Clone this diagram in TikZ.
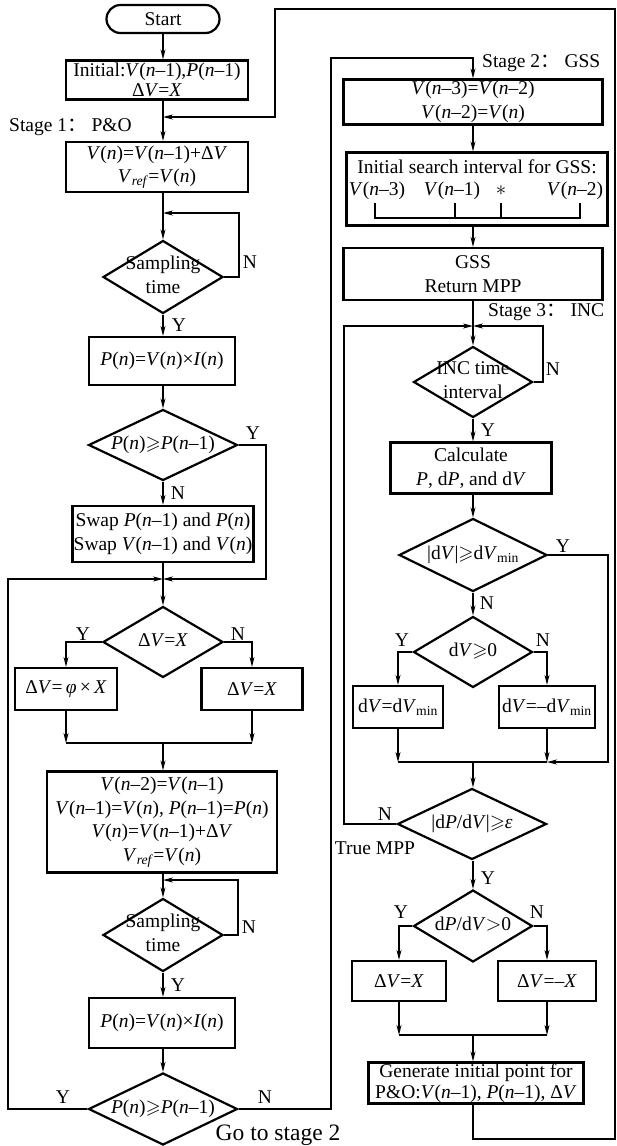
\documentclass[tikz,border=0pt]{standalone}
\usepackage{fontspec}
\usepackage{amssymb}
\setmainfont{Liberation Serif}
\newfontfamily\cjk{Noto Sans CJK SC}
\usetikzlibrary{shapes.geometric,arrows.meta}

\newcommand{\vi}[1]{\textit{#1}}
\newcommand{\dtxt}[1]{\makebox[0pt]{\begin{tabular}{@{}c@{}}#1\end{tabular}}}

\begin{document}
\begin{tikzpicture}[x=1pt,y=-1pt,
  font=\fontsize{19.5}{23.5}\selectfont,
  box/.style={draw, line width=2.2pt, align=center, inner sep=1pt},
  tight/.style={font=\fontsize{19.5}{20.5}\selectfont},
  dec/.style={draw, diamond, line width=2.2pt, inner sep=0pt},
  link/.style={line width=1.1pt},
  arr/.style={link, -{Stealth[length=10pt,width=5pt,inset=3pt]}},
  lbl/.style={inner sep=0pt}]

\useasboundingbox (0,0) rectangle (616,1146);

% Fase 1: P&O
\node[box, rounded corners=14pt, minimum width=113, minimum height=28] (start) at (163,19) {Start};
\node[box, tight, minimum width=182, minimum height=39] (init) at (157,80)
  {Initial:\vi{V}(\vi{n}–1),\vi{P}(\vi{n}–1)\\Δ\vi{V}=\vi{X}};
\coordinate (j0) at (163,117);
\node[lbl, anchor=west] (st1) at (9,127) {Stage 1{\cjk ：} P\&O};
\node[box, minimum width=182, minimum height=50] (vn) at (157,167)
  {\vi{V}(\vi{n})=\vi{V}(\vi{n}–1)+Δ\vi{V}\\\vi{V}\textsubscript{\vi{ref}}=\vi{V}(\vi{n})};
\coordinate (j1) at (163,213);
\node[dec, minimum width=120, minimum height=73] (samp1) at (163,277) {\dtxt{Sampling\\time}};
\node[box, minimum width=146, minimum height=48] (pn1) at (162,361) {\vi{P}(\vi{n})=\vi{V}(\vi{n})×\vi{I}(\vi{n})};
\node[dec, minimum width=149, minimum height=71] (cmp1) at (163,445) {\dtxt{\vi{P}(\vi{n})$\geqslant$\vi{P}(\vi{n}–1)}};
\node[box, minimum width=181, minimum height=56] (swap) at (163,534)
  {Swap \vi{P}(\vi{n}–1) and \vi{P}(\vi{n})\\Swap \vi{V}(\vi{n}–1) and \vi{V}(\vi{n})};
\coordinate (j2) at (163,579);
\node[dec, minimum width=120, minimum height=71] (dvx) at (163,642) {\dtxt{Δ\vi{V}=\vi{X}}};
\node[box, minimum width=102, minimum height=42] (phi) at (66,689) {Δ\vi{V}=\,\vi{φ}\,×\,\vi{X}};
\node[box, minimum width=101, minimum height=42] (dx1) at (252,689) {Δ\vi{V}=\vi{X}};
\coordinate (j3) at (163,743);
\node[box, minimum width=230, minimum height=101] (upd) at (162,822)
  {\vi{V}(\vi{n}–2)=\vi{V}(\vi{n}–1)\\\vi{V}(\vi{n}–1)=\vi{V}(\vi{n}), \vi{P}(\vi{n}–1)=\vi{P}(\vi{n})\\
   \vi{V}(\vi{n})=\vi{V}(\vi{n}–1)+Δ\vi{V}\\\vi{V}\textsubscript{\vi{ref}}=\vi{V}(\vi{n})};
\coordinate (j4) at (163,880);
\node[dec, minimum width=120, minimum height=73] (samp2) at (163,935) {\dtxt{Sampling\\time}};
\node[box, minimum width=146, minimum height=50] (pn2) at (162,1023) {\vi{P}(\vi{n})=\vi{V}(\vi{n})×\vi{I}(\vi{n})};
\node[dec, minimum width=149, minimum height=72] (cmp2) at (163,1109) {\dtxt{\vi{P}(\vi{n})$\geqslant$\vi{P}(\vi{n}–1)}};
\node[lbl, font=\fontsize{23.5}{26}\selectfont] (go2) at (278,1135) {Go to stage 2};

% Fase 2: GSS
\node[lbl, anchor=west] (st2) at (482,63) {Stage 2{\cjk ：} GSS};
\node[box, minimum width=259, minimum height=45] (gss1) at (473,102)
  {\vi{V}(\vi{n}–3)=\vi{V}(\vi{n}–2)\\\vi{V}(\vi{n}–2)=\vi{V}(\vi{n})};
\node[box, minimum width=261, minimum height=73] (gss2) at (477,189) {};
\node[lbl, anchor=base] (gsst) at (477,173) {Initial search interval for GSS:};
\node[lbl, anchor=base] (pa) at (377,195) {\vi{V}(\vi{n}–3)};
\node[lbl, anchor=base] (pb) at (452,195) {\vi{V}(\vi{n}–1)};
\node[lbl, anchor=base] (pc) at (501,195) {\smash{$*$}};
\node[lbl, anchor=base] (pd) at (575,195) {\vi{V}(\vi{n}–2)};
\draw[link] (375,203) -- (375,218) -- (580,218) -- (580,203);
\draw[link] (455,203) -- (455,218);
\draw[link] (501,203) -- (501,218);
\node[box, minimum width=259, minimum height=52] (gss3) at (473,274) {GSS\\Return MPP};

% Fase 3: INC
\node[lbl, anchor=west] (st3) at (488,312) {Stage 3{\cjk ：} INC};
\coordinate (j5) at (473,326);
\node[dec, minimum width=119, minimum height=71] (inc) at (473,382) {\dtxt{INC time\\interval}};
\node[box, minimum width=161, minimum height=51] (calc) at (471,468) {Calculate\\\vi{P}, d\vi{P}, and d\vi{V}};
\node[dec, minimum width=148, minimum height=73] (dvm) at (473,555) {\dtxt{|d\vi{V}|$\geqslant$d\vi{V}\textsubscript{min}}};
\node[dec, minimum width=119, minimum height=71] (dvp) at (473,652) {\dtxt{d\vi{V}$\geqslant$0}};
\node[box, minimum width=90, minimum height=42] (dva) at (398,707) {d\vi{V}=d\vi{V}\textsubscript{min}};
\node[box, minimum width=96, minimum height=42] (dvb) at (547,707) {d\vi{V}=–d\vi{V}\textsubscript{min}};
\coordinate (j6) at (473,762);
\node[dec, minimum width=149, minimum height=71] (dpdv) at (472,824) {\dtxt{|d\vi{P}/d\vi{V}|$\geqslant$\vi{ε}}};
\node[lbl] (tmpp) at (375,848) {True MPP};
\node[dec, minimum width=119, minimum height=72] (sgn) at (473,926) {\dtxt{d\vi{P}/d\vi{V}$>$0}};
\node[box, minimum width=94, minimum height=40] (dxp) at (399,981) {Δ\vi{V}=\vi{X}};
\node[box, minimum width=98, minimum height=40] (dxm) at (547,981) {Δ\vi{V}=–\vi{X}};
\coordinate (j7) at (473,1035);
\node[box, tight, minimum width=215, minimum height=41] (gen) at (476,1083)
  {Generate initial point for\\P\&O:\vi{V}(\vi{n}–1), \vi{P}(\vi{n}–1), Δ\vi{V}};

% Etichette Y / N
\node[lbl] (n1) at (250,262) {N};
\node[lbl] (y1) at (179,325) {Y};
\node[lbl] (y2) at (253,433) {Y};
\node[lbl] (n2) at (178,493) {N};
\node[lbl] (y3) at (83,634) {Y};
\node[lbl] (n3) at (238,634) {N};
\node[lbl] (n4) at (249,927) {N};
\node[lbl] (y4) at (178,985) {Y};
\node[lbl] (y5) at (63,1097) {Y};
\node[lbl] (n5) at (265,1097) {N};
\node[lbl] (n6) at (553,369) {N};
\node[lbl] (y6) at (488,430) {Y};
\node[lbl] (y7) at (563,546) {Y};
\node[lbl] (n7) at (487,603) {N};
\node[lbl] (y8) at (402,640) {Y};
\node[lbl] (n8) at (543,640) {N};
\node[lbl] (n9) at (385,814) {N};
\node[lbl] (y9) at (488,878) {Y};
\node[lbl] (y10) at (401,912) {Y};
\node[lbl] (n10) at (537,912) {N};

% Collegamenti colonna sinistra
\draw[arr] (start.south) -- (start.south |- init.north);
\draw[arr] (j0 |- init.south) -- (j0 |- vn.north);
\draw[link] (j0 |- vn.south) -- (j1);
\draw[arr] (j1) -- (samp1.north);
\draw[arr] (samp1.east) -| (239,213) -- (j1);
\draw[arr] (samp1.south) -- (samp1.south |- pn1.north);
\draw[arr] (samp1.south |- pn1.south) -- (cmp1.north);
\draw[arr] (cmp1.south) -- (swap.north);
\draw[arr] (cmp1.east) -| (266,579) -- (j2);
\draw[link] (swap.south) -- (j2);
\draw[arr] (j2) -- (dvx.north);
\draw[arr] (dvx.west) -| (phi.north);
\draw[arr] (dvx.east) -| (dx1.north);
\draw[arr] (phi.south) -- (phi.south |- j3);
\draw[arr] (dx1.south) -- (dx1.south |- j3);
\draw[link] (phi.south |- j3) -- (dx1.south |- j3);
\draw[arr] (j3) -- (j3 |- upd.north);
\draw[link] (j3 |- upd.south) -- (j4);
\draw[arr] (j4) -- (samp2.north);
\draw[arr] (samp2.east) -| (238,880) -- (j4);
\draw[arr] (samp2.south) -- (samp2.south |- pn2.north);
\draw[arr] (samp2.south |- pn2.south) -- (cmp2.north);
\draw[arr] (cmp2.west) -| (8,579) -- (j2);
\draw[arr] (cmp2.east) -| (331,58) -| (gss1.north);

% Collegamenti colonna destra
\draw[arr] (gss1.south) -- (gss1.south |- gss2.north);
\draw[arr] (gss1.south |- gss2.south) -- (gss1.south |- gss3.north);
\draw[link] (gss3.south) -- (j5);
\draw[arr] (j5) -- (inc.north);
\draw[arr] (inc.east) -| (543,326) -- (j5);
\draw[arr] (inc.south) -- (inc.south |- calc.north);
\draw[arr] (inc.south |- calc.south) -- (dvm.north);
\draw[arr] (dvm.south) -- (dvp.north);
\draw[arr] (dvm.east) -| (608,762) -- (dvb.south |- j6);
\draw[arr] (dvp.west) -| (dva.north);
\draw[arr] (dvp.east) -| (dvb.north);
\draw[arr] (dva.south) -- (dva.south |- j6);
\draw[arr] (dvb.south) -- (dvb.south |- j6);
\draw[link] (dva.south |- j6) -- (dvb.south |- j6);
\draw[arr] (j6) -- (j6 |- dpdv.north);
\draw[arr] (dpdv.west) -| (344,326) -- (j5);
\draw[arr] (j6 |- dpdv.south) -- (sgn.north);
\draw[arr] (sgn.west) -| (dxp.north);
\draw[arr] (sgn.east) -| (dxm.north);
\draw[arr] (dxp.south) -- (dxp.south |- j7);
\draw[arr] (dxm.south) -- (dxm.south |- j7);
\draw[link] (dxp.south |- j7) -- (dxm.south |- j7);
\draw[arr] (j7) -- (j7 |- gen.north);

% Ritorno alla fase 1
\draw[arr] (j7 |- gen.south) -- (j7 |- 0,1139) -- (615,1139) -- (615,9) -- (275,9) -- (275,117) -- (j0);

\end{tikzpicture}
\end{document}
